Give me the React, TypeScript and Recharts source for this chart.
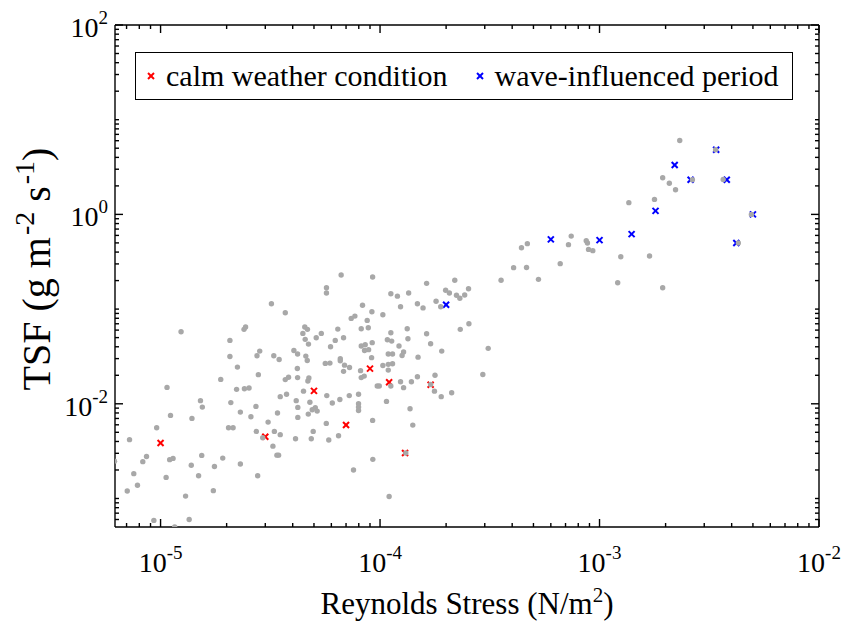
import React from 'react';
import { ScatterChart, Scatter, XAxis, YAxis, Legend } from 'recharts';

// ---------- data ----------
const BACKGROUND_POINTS: [number, number][] = [
  [3.2e-5, 0.114], [3.7e-5, 0.0916], [1.24e-5, 0.0577], [2.4e-5, 0.0611], [2.44e-5, 0.0646],
  [2.07e-5, 0.0467], [2.07e-5, 0.0316], [2.75e-5, 0.0322], [2.83e-5, 0.036], [3.28e-5, 0.0322],
  [3.47e-5, 0.0294], [4.05e-5, 0.0366], [4.21e-5, 0.0335], [2.24e-5, 0.0244], [2.79e-5, 0.0203],
  [1.88e-5, 0.0181], [3.7e-5, 0.018], [3.83e-5, 0.0191], [4.21e-5, 0.0189], [4.2e-5, 0.0236],
  [1.07e-5, 0.0149], [2.22e-5, 0.0142], [2.41e-5, 0.0144], [2.53e-5, 0.0147], [1.52e-5, 0.0108],
  [1.55e-5, 0.00923], [2.09e-5, 0.0103], [2.72e-5, 0.00939], [1.11e-5, 0.00754], [1.39e-5, 0.00701],
  [2.31e-5, 0.00817], [2.58e-5, 0.00731], [3.51e-5, 0.0119], [3.75e-5, 0.0126], [4.15e-5, 0.0108],
  [4.22e-5, 0.00916], [3.41e-5, 0.00798], [3.09e-5, 0.00641], [4.22e-5, 0.00718],
  [9.6e-6, 0.00559], [7.22e-6, 0.00418], [2.04e-5, 0.00559], [2.14e-5, 0.00559], [2.73e-5, 0.00511],
  [3.3e-5, 0.00511], [3.51e-5, 0.00472], [2.92e-5, 0.00439], [4.12e-5, 0.00428], [3.25e-5, 0.00357],
  [3.39e-5, 0.00287], [3.45e-5, 0.00287], [8.63e-6, 0.00278], [8.3e-6, 0.00245], [1.1e-5, 0.00257],
  [1.14e-5, 0.00265], [1.54e-5, 0.00285], [1.38e-5, 0.00224], [1.92e-5, 0.00267], [1.76e-5, 0.00218],
  [2.31e-5, 0.00231], [7.55e-6, 0.00183], [1.06e-5, 0.00167], [1.49e-5, 0.00174], [2.77e-5, 0.00174],
  [7.85e-6, 0.00138], [7.05e-6, 0.0012], [1.74e-5, 0.00121], [1.3e-5, 0.00106], [6.17e-6, 0.00248],
  [9.32e-6, 0.000587], [1.35e-5, 0.0006], [1.16e-5, 0.0005],
  [6.65e-5, 0.229], [9.25e-5, 0.218], [5.7e-5, 0.168], [5.7e-5, 0.148], [1.63e-4, 0.187],
  [2.19e-4, 0.202], [2.53e-4, 0.164], [1.99e-4, 0.158], [2.07e-4, 0.148], [2.23e-4, 0.14],
  [2.31e-4, 0.13], [2.43e-4, 0.141], [1.12e-4, 0.145], [1.2e-4, 0.137], [1.35e-4, 0.148],
  [1.48e-4, 0.114], [1.57e-4, 0.103], [1.8e-4, 0.121], [1.89e-4, 0.106], [1.24e-4, 0.106],
  [8.32e-5, 0.11], [9.18e-5, 0.0939], [1.03e-4, 0.0873], [7.39e-5, 0.0798], [7.68e-5, 0.0843],
  [8.74e-5, 0.076], [8.84e-5, 0.0636], [8.21e-5, 0.0621], [6.42e-5, 0.0615], [4.54e-5, 0.0646],
  [4.67e-5, 0.0611], [4.45e-5, 0.0554], [5.4e-5, 0.0554], [5.12e-5, 0.0499], [4.56e-5, 0.0479],
  [4.72e-5, 0.0427], [6.25e-5, 0.0467], [6.82e-5, 0.0499], [5.95e-5, 0.0401], [1.12e-4, 0.0563],
  [1.08e-4, 0.0475], [1.13e-4, 0.0459], [1.33e-4, 0.0621], [1.34e-4, 0.0487], [9.21e-5, 0.0442],
  [8.21e-5, 0.0407], [8.56e-5, 0.0421], [8.5e-5, 0.0366], [8.87e-5, 0.0373], [1.22e-4, 0.0407],
  [1.63e-4, 0.055], [1.7e-4, 0.0431], [2.32e-4, 0.0611], [2.54e-4, 0.0701], [1.91e-4, 0.036],
  [1.09e-4, 0.0335], [1.14e-4, 0.0335], [1.28e-4, 0.0352], [1.26e-4, 0.0324], [1.49e-4, 0.0311],
  [9.15e-5, 0.0307], [4.59e-5, 0.0319], [4.66e-5, 0.0287], [6.59e-5, 0.0299], [6.59e-5, 0.0285],
  [5.63e-5, 0.0267], [5.91e-5, 0.0269], [6.89e-5, 0.0256], [7.26e-5, 0.0242], [6.82e-5, 0.022],
  [8.15e-5, 0.0224], [1.03e-4, 0.0254], [1.09e-4, 0.0261], [1.14e-4, 0.0265], [1.09e-4, 0.0227],
  [8.21e-5, 0.0189], [8.47e-5, 0.0196], [4.69e-5, 0.0174], [4.74e-5, 0.0187], [1.24e-4, 0.0171],
  [1.39e-4, 0.0171], [1.48e-4, 0.0193], [1.78e-4, 0.02], [4.48e-5, 0.0136], [5.72e-5, 0.0122],
  [6.56e-5, 0.0111], [7.24e-5, 0.0122], [7.98e-5, 0.0126], [7.98e-5, 0.01], [7.98e-5, 0.00923],
  [7.98e-5, 0.00851], [6.06e-5, 0.0102], [4.79e-5, 0.0104], [4.91e-5, 0.00866], [5.07e-5, 0.0091],
  [5.17e-5, 0.00837], [4.71e-5, 0.00778], [5.69e-5, 0.00621], [4.96e-5, 0.00511], [4.86e-5, 0.00428],
  [5.84e-5, 0.00414], [6.47e-5, 0.0046], [9.25e-5, 0.00668], [1.07e-4, 0.0106], [9.71e-5, 0.0154],
  [9.92e-5, 0.0154], [1.12e-4, 0.0154], [1.28e-4, 0.0148], [1.37e-4, 0.00887], [1.41e-4, 0.00596],
  [1.77e-4, 0.0136], [1.9e-4, 0.0119], [2.12e-4, 0.0131], [9.27e-5, 0.00259], [7.57e-5, 0.002],
  [1.1e-4, 0.00105], [1.31e-4, 0.00302], [1.7e-4, 0.016],
  [3.56e-4, 0.202], [5.27e-4, 0.206], [4.06e-4, 0.274], [4.65e-4, 0.275], [6.62e-4, 0.302],
  [4.41e-4, 0.445], [4.69e-4, 0.491], [7.43e-4, 0.59], [7.22e-4, 0.479], [8.7e-4, 0.528],
  [8.81e-4, 0.498], [8.91e-4, 0.427], [9.32e-4, 0.414], [1.21e-3, 0.19], [1.25e-3, 0.357],
  [1.69e-3, 0.363], [1.94e-3, 0.168], [1.36e-3, 1.33], [1.78e-3, 1.44], [1.94e-3, 2.44],
  [2.08e-3, 2.13], [2.22e-3, 1.82], [2.32e-3, 6.04], [3.38e-3, 4.82], [2.65e-3, 2.32],
  [3.66e-3, 2.34], [4.92e-3, 1.0], [4.29e-3, 0.498], [3.11e-4, 0.0385], [2.94e-4, 0.0204],
];

const CALM_POINTS: [number, number][] = [
  [1e-5, 0.00385], [3e-5, 0.00449], [5e-5, 0.0137], [7e-5, 0.00596],
  [9e-5, 0.0235], [1.1e-4, 0.0169], [1.3e-4, 0.00302], [1.7e-4, 0.0159],
];

const WAVE_POINTS: [number, number][] = [
  [2e-4, 0.111], [6e-4, 0.545], [1e-3, 0.535], [1.4e-3, 0.619], [1.8e-3, 1.09],
  [2.2e-3, 3.32], [2.6e-3, 2.32], [3.4e-3, 4.82], [3.8e-3, 2.32], [4.2e-3, 0.498], [5e-3, 1.0],
];

const SERIES_NAMES = ['calm weather condition', 'wave-influenced period'];

const X_DOMAIN: [number, number] = [6.2e-6, 1e-2];
const Y_DOMAIN: [number, number] = [5e-4, 100];

const X_MAJOR_TICKS = [1e-5, 1e-4, 1e-3, 1e-2];
const X_MINOR_TICKS = [
  7e-6, 8e-6, 9e-6,
  2e-5, 3e-5, 4e-5, 5e-5, 6e-5, 7e-5, 8e-5, 9e-5,
  2e-4, 3e-4, 4e-4, 5e-4, 6e-4, 7e-4, 8e-4, 9e-4,
  2e-3, 3e-3, 4e-3, 5e-3, 6e-3, 7e-3, 8e-3, 9e-3,
];
const Y_MAJOR_TICKS = [1e-2, 1e0, 1e2];
const Y_MINOR_TICKS = [
  6e-4, 7e-4, 8e-4, 9e-4, 1e-3,
  2e-3, 3e-3, 4e-3, 5e-3, 6e-3, 7e-3, 8e-3, 9e-3,
  2e-2, 3e-2, 4e-2, 5e-2, 6e-2, 7e-2, 8e-2, 9e-2, 1e-1,
  2e-1, 3e-1, 4e-1, 5e-1, 6e-1, 7e-1, 8e-1, 9e-1,
  2, 3, 4, 5, 6, 7, 8, 9, 10,
  20, 30, 40, 50, 60, 70, 80, 90,
];
const Y_LABEL_EXPONENTS: Record<string, string> = { '0.01': '-2', '1': '0', '100': '2' };
const X_LABEL_EXPONENTS: Record<string, string> = { '0.00001': '-5', '0.0001': '-4', '0.001': '-3', '0.01': '-2' };

// ---------- styling ----------
const FONT = '"Liberation Serif", "Times New Roman", Times, serif';
const MAJOR_LEN = 8;
const MINOR_LEN = 4;
const TICK_FONT = 28;
const TICK_SUP = 19;
const TITLE_FONT = 31;
const Y_TITLE_FONT = 40;
const Y_TITLE_SUP = 28;
const LINE_W = 1.4;

const X_ALL_TICKS = [...X_MAJOR_TICKS, ...X_MINOR_TICKS].sort((a, b) => a - b);
const Y_ALL_TICKS = [...Y_MAJOR_TICKS, ...Y_MINOR_TICKS].sort((a, b) => a - b);
const isMajorX = (v: number) => X_MAJOR_TICKS.some((m) => Math.abs(m - v) / m < 1e-6);
const isMajorY = (v: number) => Y_MAJOR_TICKS.some((m) => Math.abs(m - v) / m < 1e-6);
const expLabel = (map: Record<string, string>, v: number) => {
  const key = Object.keys(map).find((k) => Math.abs(parseFloat(k) - v) / v < 1e-6);
  return key ? map[key] : '';
};

const BottomTick = (p: any) => {
  const { x, y, payload } = p;
  const major = isMajorX(payload.value);
  return (
    <g>
      <line x1={x} x2={x} y1={y} y2={y - (major ? MAJOR_LEN : MINOR_LEN)} stroke="#000" strokeWidth={LINE_W} />
      {major && (
        <text x={x} y={y + 45} textAnchor="middle" fontFamily={FONT} fontSize={TICK_FONT} fill="#000">
          10<tspan dy={-13} fontSize={TICK_SUP}>{expLabel(X_LABEL_EXPONENTS, payload.value)}</tspan>
        </text>
      )}
    </g>
  );
};

const TopTick = (p: any) => {
  const { x, y, payload } = p;
  const major = isMajorX(payload.value);
  return <line x1={x} x2={x} y1={y} y2={y + (major ? MAJOR_LEN : MINOR_LEN)} stroke="#000" strokeWidth={LINE_W} />;
};

const LeftTick = (p: any) => {
  const { x, y, payload } = p;
  const major = isMajorY(payload.value);
  return (
    <g>
      <line x1={x} x2={x + (major ? MAJOR_LEN : MINOR_LEN)} y1={y} y2={y} stroke="#000" strokeWidth={LINE_W} />
      {major && (
        <text x={x - 7} y={y + 12} textAnchor="end" fontFamily={FONT} fontSize={TICK_FONT} fill="#000">
          10<tspan dy={-13} fontSize={TICK_SUP}>{expLabel(Y_LABEL_EXPONENTS, payload.value)}</tspan>
        </text>
      )}
    </g>
  );
};

const RightTick = (p: any) => {
  const { x, y, payload } = p;
  const major = isMajorY(payload.value);
  return <line x1={x} x2={x - (major ? MAJOR_LEN : MINOR_LEN)} y1={y} y2={y} stroke="#000" strokeWidth={LINE_W} />;
};

const renderXTitle = (props: any) => {
  const vb = props.viewBox;
  return (
    <text x={vb.x + vb.width / 2} y={vb.y + 87} textAnchor="middle" fontFamily={FONT} fontSize={TITLE_FONT} fill="#000">
      Reynolds Stress (N/m<tspan dy={-12} fontSize={21}>2</tspan><tspan dy={12}>)</tspan>
    </text>
  );
};

const renderYTitle = (props: any) => {
  const vb = props.viewBox;
  const cy = vb.y + vb.height / 2 - 7;
  return (
    <text transform={`translate(50, ${cy}) rotate(-90)`} textAnchor="middle" fontFamily={FONT} fontSize={Y_TITLE_FONT} fill="#000">
      TSF (g m<tspan dx={2} dy={-16} fontSize={Y_TITLE_SUP}>-2</tspan><tspan dy={16}> s</tspan>
      <tspan dx={2} dy={-16} fontSize={Y_TITLE_SUP}>-1</tspan><tspan dy={16}>)</tspan>
    </text>
  );
};

const GrayDot = (p: any) => <circle cx={p.cx} cy={p.cy} r={2.7} fill="#a8a8a8" />;
const makeCross = (color: string) => (p: any) => (
  <g stroke={color} strokeWidth={2}>
    <line x1={p.cx - 3} y1={p.cy - 3} x2={p.cx + 3} y2={p.cy + 3} />
    <line x1={p.cx - 3} y1={p.cy + 3} x2={p.cx + 3} y2={p.cy - 3} />
  </g>
);

const LegendMarker = ({ color }: { color: string }) => (
  <svg width={10} height={10} style={{ display: 'block', flex: '0 0 auto' }}>
    <line x1={2} y1={2} x2={8} y2={8} stroke={color} strokeWidth={2} />
    <line x1={2} y1={8} x2={8} y2={2} stroke={color} strokeWidth={2} />
  </svg>
);

const renderLegend = (props: any) => {
  const items = (props.payload || []).filter((e: any) => e.type !== 'none');
  return (
    <div
      style={{
        boxSizing: 'border-box', width: 658, height: 48, border: '1.5px solid #000', background: '#fff',
        display: 'flex', alignItems: 'center', paddingLeft: 10, fontFamily: FONT, fontSize: 30, color: '#000',
      }}
    >
      {items.map((e: any, i: number) => (
        <div key={i} style={{ display: 'flex', alignItems: 'center', marginLeft: i === 0 ? 0 : 27 }}>
          <LegendMarker color={e.color} />
          <span style={{ marginLeft: 10, lineHeight: 1, whiteSpace: 'nowrap' }}>{e.value}</span>
        </div>
      ))}
    </div>
  );
};

const toXY = (arr: [number, number][]) => arr.map(([x, y]) => ({ x, y }));

export default function App() {
  const calm = toXY(CALM_POINTS);
  const wave = toXY(WAVE_POINTS);
  const bg = toXY(BACKGROUND_POINTS);
  return (
    <div style={{ position: 'absolute', left: 0, top: 0, width: 845, height: 621, background: '#fff' }}>
      <ScatterChart width={845} height={621} margin={{ top: 20, right: 21, bottom: 14, left: 15 }}>
        <XAxis
          xAxisId="b" orientation="bottom" type="number" dataKey="x" scale="log" domain={X_DOMAIN}
          allowDataOverflow ticks={X_ALL_TICKS} interval={0} tick={BottomTick} tickLine={false}
          tickSize={0} tickMargin={0} height={80} axisLine={{ stroke: '#000', strokeWidth: LINE_W }}
          label={renderXTitle}
        />
        <XAxis
          xAxisId="t" orientation="top" type="number" dataKey="x" scale="log" domain={X_DOMAIN}
          allowDataOverflow ticks={X_ALL_TICKS} interval={0} tick={TopTick} tickLine={false}
          tickSize={0} tickMargin={0} height={5} axisLine={{ stroke: '#000', strokeWidth: LINE_W }}
        />
        <YAxis
          yAxisId="l" orientation="left" type="number" dataKey="y" scale="log" domain={Y_DOMAIN}
          allowDataOverflow ticks={Y_ALL_TICKS} interval={0} tick={LeftTick} tickLine={false}
          tickSize={0} tickMargin={0} width={100} axisLine={{ stroke: '#000', strokeWidth: LINE_W }}
          label={renderYTitle}
        />
        <YAxis
          yAxisId="r" orientation="right" type="number" dataKey="y" scale="log" domain={Y_DOMAIN}
          allowDataOverflow ticks={Y_ALL_TICKS} interval={0} tick={RightTick} tickLine={false}
          tickSize={0} tickMargin={0} width={5} axisLine={{ stroke: '#000', strokeWidth: LINE_W }}
        />
        <Legend
          layout="horizontal" verticalAlign="middle" align="center" width={658} height={48}
          wrapperStyle={{ left: 135, top: 52 }} content={renderLegend}
        />
        <Scatter name={SERIES_NAMES[0]} data={calm} xAxisId="b" yAxisId="l" fill="#ff0000"
          shape={makeCross('#ff0000')} isAnimationActive={false} />
        <Scatter name={SERIES_NAMES[1]} data={wave} xAxisId="b" yAxisId="l" fill="#0000ff"
          shape={makeCross('#0000ff')} isAnimationActive={false} />
        <Scatter name="all observations" data={bg} xAxisId="b" yAxisId="l" fill="#a8a8a8"
          legendType="none" shape={GrayDot} isAnimationActive={false} />
      </ScatterChart>
    </div>
  );
}
